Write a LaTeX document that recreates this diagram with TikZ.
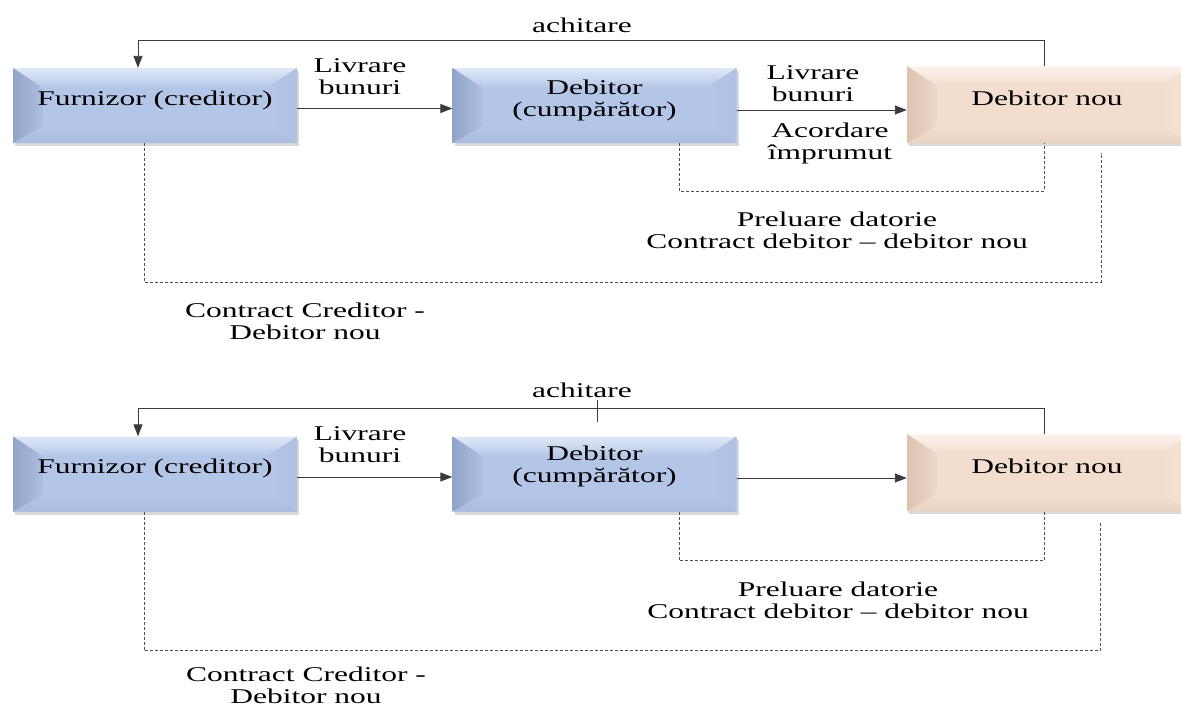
\documentclass[tikz,border=0pt]{standalone}
\usepackage{fontspec}
\setmainfont{Liberation Serif}[FakeStretch=1.5]
\usetikzlibrary{arrows.meta,shadows,calc}
\definecolor{bface}{HTML}{B4C6E7}
\definecolor{btop}{HTML}{C2D2EC}
\definecolor{bleftout}{HTML}{90A3C8}
\definecolor{bleftin}{HTML}{ADBFE2}
\definecolor{bright}{HTML}{AFC1E3}
\definecolor{bbottom}{HTML}{AABCDD}
\definecolor{pface}{HTML}{F2DDCF}
\definecolor{ptop}{HTML}{F7E7DC}
\definecolor{pleftout}{HTML}{DCC2B2}
\definecolor{pleftin}{HTML}{EFD8C9}
\definecolor{pright}{HTML}{F7E4D7}
\definecolor{pbottom}{HTML}{EAD3C4}
\definecolor{linec}{HTML}{3A3A3A}
\definecolor{dashc}{HTML}{505050}
\tikzset{
  bevbox/.style n args={6}{rectangle, inner sep=0pt, minimum width=284pt, minimum height=75pt,
    fill=#1, drop shadow={opacity=0.3, shadow xshift=2pt, shadow yshift=-3pt},
    path picture={
      \coordinate (pNW) at (path picture bounding box.north west);
      \coordinate (pNE) at (path picture bounding box.north east);
      \coordinate (pSW) at (path picture bounding box.south west);
      \coordinate (pSE) at (path picture bounding box.south east);
      \coordinate (iNW) at ([xshift=30pt,yshift=-20pt]pNW);
      \coordinate (iNE) at ([xshift=-30pt,yshift=-20pt]pNE);
      \coordinate (iSW) at ([xshift=30pt,yshift=17pt]pSW);
      \coordinate (iSE) at ([xshift=-30pt,yshift=17pt]pSE);
      \shade[top color=#2!50!white, bottom color=#1] (pNW) -- (pNE) -- (iNE) -- (iNW) -- cycle;
      \shade[top color=#1, bottom color=#6] (pSW) -- (pSE) -- (iSE) -- (iSW) -- cycle;
      \shade[left color=#3, right color=#4] (pNW) -- (iNW) -- (iSW) -- (pSW) -- cycle;
      \shade[left color=#1, right color=#5] (pNE) -- (iNE) -- (iSE) -- (pSE) -- cycle;
    }},
  bluebox/.style={bevbox={bface}{btop}{bleftout}{bleftin}{bright}{bbottom}},
  peachbox/.style={bevbox={pface}{ptop}{pleftout}{pleftin}{pright}{pbottom}},
  txt/.style={align=center, inner sep=0pt, text=black},
  arr/.style={draw=linec, line width=0.9pt, -{Triangle[length=12pt,width=9pt]}},
  plain/.style={draw=linec, line width=0.9pt},
  dsh/.style={draw=dashc, line width=0.8pt, dash pattern=on 3pt off 2pt},
}
\begin{document}
\begin{tikzpicture}[x=1pt, y=-1pt, font=\fontsize{21}{22}\selectfont]
\path[use as bounding box] (0,0) rectangle (1181,707);
\clip (0,0) rectangle (1181,707);

% ---------- top diagram ----------
\node[bluebox] (F1) at (155,105.5) {};
\node[bluebox] (D1) at (594.5,105.5) {};
\node[peachbox, minimum height=77pt] (N1) at (1049,104.5) {};
\node[txt] (F1t) at (155,100) {Furnizor (creditor)};
\node[txt] (D1t) at (594.5,100) {Debitor\\(cumpărător)};
\node[txt] (N1t) at (1047,98) {Debitor nou};

\draw[arr] ([yshift=-3pt]F1.east) -- ([yshift=-3pt]F1.east -| D1.west);
\draw[arr] ([yshift=-4.5pt]D1.east) -- ([yshift=-4.5pt]D1.east -| N1.west);
\coordinate (a1) at (138,40);
\draw[arr] ([xshift=-5pt]N1.north) |- (a1) -- (a1 |- F1.north);
\draw[dsh] ([xshift=84.5pt]D1.south) -- ++(0,48) -| ([xshift=-5pt]N1.south);
\coordinate (c1) at (1101,153);
\draw[dsh] ([xshift=-11pt]F1.south) -- ++(0,139) -| (c1);

\node[txt] (L1) at (360,77) {Livrare\\bunuri};
\node[txt] (ach1) at (582,25) {achitare};
\node[txt] (L2) at (813,84) {Livrare\\bunuri};
\node[txt] (A1) at (830,143) {Acordare\\împrumut};
\node[txt] (P1) at (837,230) {Preluare datorie\\Contract debitor – debitor nou};
\node[txt] (C1) at (305,321) {Contract Creditor -\\Debitor nou};

% ---------- bottom diagram ----------
\node[bluebox] (F2) at (155,474) {};
\node[bluebox] (D2) at (594.5,474) {};
\node[peachbox, minimum height=77pt] (N2) at (1049,472.5) {};
\node[txt] (F2t) at (155,468) {Furnizor (creditor)};
\node[txt] (D2t) at (594.5,466) {Debitor\\(cumpărător)};
\node[txt] (N2t) at (1047,466) {Debitor nou};

\draw[arr] ([yshift=-3pt]F2.east) -- ([yshift=-3pt]F2.east -| D2.west);
\draw[arr] ([yshift=-4pt]D2.east) -- ([yshift=-4pt]D2.east -| N2.west);
\coordinate (a2) at (138,408);
\draw[arr] ([xshift=-5pt]N2.north) |- (a2) -- (a2 |- F2.north);
\coordinate (t2a) at (597,400);
\coordinate (t2b) at (597,422);
\draw[plain] (t2a) -- (t2b);
\draw[dsh] ([xshift=84.5pt]D2.south) -- ++(0,49) -| ([xshift=-5pt]N2.south);
\coordinate (c2) at (1100,522);
\draw[dsh] ([xshift=-11pt]F2.south) -- ++(0,139) -| (c2);

\node[txt] (L3) at (360,445) {Livrare\\bunuri};
\node[txt] (ach2) at (582,390) {achitare};
\node[txt] (P2) at (838,600) {Preluare datorie\\Contract debitor – debitor nou};
\node[txt] (C2) at (306,685) {Contract Creditor -\\Debitor nou};
\end{tikzpicture}
\end{document}
